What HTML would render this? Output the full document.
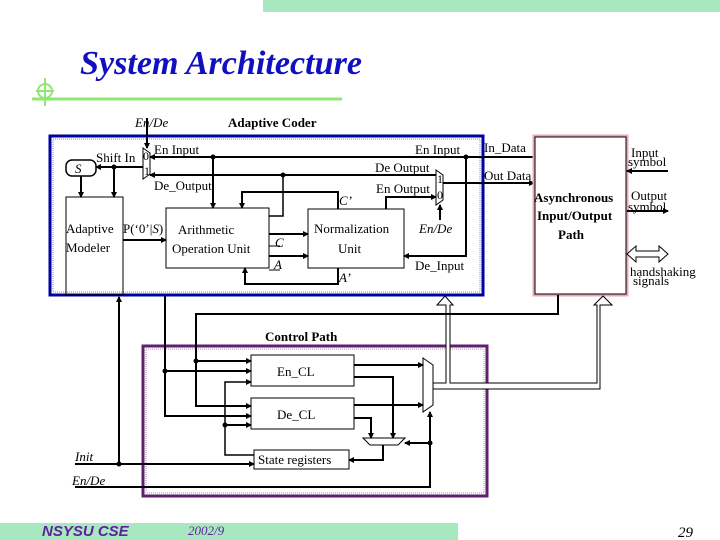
<!DOCTYPE html>
<html><head><meta charset="utf-8"><style>
body{margin:0;background:#fff}
svg{display:block}
text{font-family:"Liberation Serif",serif;font-size:13px;fill:#000}
.i{font-style:italic}
.b{font-weight:bold}
</style></head><body>
<svg width="720" height="540" viewBox="0 0 720 540" xmlns="http://www.w3.org/2000/svg">
<defs>
<marker id="a" markerWidth="6" markerHeight="6" refX="5" refY="3" orient="auto" markerUnits="userSpaceOnUse"><path d="M0,0L6,3L0,6z" fill="#000"/></marker>
</defs>
<rect x="263" y="0" width="457" height="12" fill="#a8e8c0"/>
<rect x="0" y="523" width="458" height="17" fill="#a8e8c0"/>
<text x="80" y="74" class="i b" textLength="282" lengthAdjust="spacingAndGlyphs" style="font-size:34px;fill:#1010c0">System Architecture</text>
<line x1="32" y1="99" x2="342" y2="99" stroke="#90e870" stroke-width="3"/>
<circle cx="45" cy="91" r="7" fill="none" stroke="#90e870" stroke-width="2"/>
<line x1="45" y1="78" x2="45" y2="106" stroke="#90e870" stroke-width="2"/>
<line x1="36" y1="91" x2="54" y2="91" stroke="#90e870" stroke-width="2"/>

<rect x="50" y="136" width="433" height="159" fill="none" stroke="#0000a0" stroke-width="3"/>
<rect x="53" y="139" width="427" height="153" fill="none" stroke="#8888cc" stroke-width="1" stroke-dasharray="1,1"/>
<text x="228" y="127" class="b">Adaptive Coder</text>
<text x="135" y="127" class="i">En/De</text>

<g stroke="#000" stroke-width="2" fill="none">
<rect x="66" y="160" width="30" height="16" rx="6" stroke-width="1.5"/>
<rect x="66" y="197" width="57" height="98" stroke-width="1"/>
<rect x="166" y="208" width="103" height="60" stroke-width="1"/>
<rect x="308" y="209" width="96" height="59" stroke-width="1"/>
<path d="M143,148 L150,153 L150,174 L143,179 Z" stroke-width="1"/>
<path d="M436,170 L443,175 L443,200 L436,205 Z" stroke-width="1"/>
<line x1="147" y1="118" x2="147" y2="148" marker-end="url(#a)"/>
<line x1="484" y1="157" x2="150" y2="157" marker-end="url(#a)"/>
<line x1="436" y1="175" x2="150" y2="175" marker-end="url(#a)"/>
<line x1="143" y1="167" x2="96" y2="167" marker-end="url(#a)"/>
<line x1="114" y1="167" x2="114" y2="197" marker-end="url(#a)"/>
<line x1="81" y1="176" x2="81" y2="197" marker-end="url(#a)"/>
<line x1="123" y1="240" x2="166" y2="240" marker-end="url(#a)"/>
<line x1="213" y1="157" x2="213" y2="208" marker-end="url(#a)"/>
<polyline points="283,175 283,216 269,216" stroke-width="1.5"/>
<polyline points="338,209 338,192 242,192 242,208" marker-end="url(#a)"/>
<polyline points="338,268 338,284 245,284 245,268" marker-end="url(#a)"/>
<line x1="269" y1="234" x2="308" y2="234" marker-end="url(#a)"/>
<line x1="269" y1="256" x2="308" y2="256" marker-end="url(#a)"/>
<polyline points="386,209 386,197 436,197" marker-end="url(#a)"/>
<polyline points="466,157 466,256 404,256" marker-end="url(#a)"/>
<line x1="440" y1="220" x2="440" y2="205" marker-end="url(#a)"/>
<line x1="443" y1="183" x2="534" y2="183" marker-end="url(#a)"/>
<line x1="484" y1="157" x2="534" y2="157"/>
</g>
<g stroke="#000" stroke-width="1">
<line x1="269" y1="246" x2="280" y2="246"/><line x1="269" y1="270" x2="280" y2="270"/>
</g>
<g fill="#000"><circle cx="114" cy="167" r="2.5"/><circle cx="213" cy="157" r="2.5"/><circle cx="283" cy="175" r="2.5"/><circle cx="466" cy="157" r="2.5"/></g>
<text x="75" y="173" class="i">S</text>
<text x="96" y="162">Shift  In</text>
<text x="143" y="160" style="font-size:12px">0</text><text x="144" y="175" style="font-size:12px">1</text>
<text x="154" y="154">En  Input</text>
<text x="154" y="190">De_Output</text>
<text x="66" y="233">Adaptive</text><text x="66" y="252">Modeler</text>
<text x="123" y="233">P(‘0’|<tspan class="i">S</tspan>)</text>
<text x="178" y="234">Arithmetic</text><text x="172" y="253">Operation Unit</text>
<text x="275" y="247" class="i">C</text><text x="274" y="269" class="i">A</text>
<text x="339" y="205" class="i">C’</text><text x="339" y="282" class="i">A’</text>
<text x="314" y="233">Normalization</text><text x="338" y="253">Unit</text>
<text x="415" y="154">En  Input</text>
<text x="375" y="172">De  Output</text>
<text x="376" y="193">En  Output</text>
<text x="437" y="183" style="font-size:12px">1</text><text x="437" y="199" style="font-size:12px">0</text>
<text x="419" y="233" class="i">En/De</text>
<text x="415" y="270">De_Input</text>
<text x="484" y="152">In_Data</text><text x="484" y="180">Out  Data</text>

<rect x="534" y="136" width="93" height="159" fill="none" stroke="#e8a8b0" stroke-width="3"/>
<rect x="535" y="137" width="91" height="157" fill="none" stroke="#000" stroke-width="1"/>
<text x="534" y="202" class="b">Asynchronous</text>
<text x="537" y="220" class="b">Input/Output</text>
<text x="558" y="239" class="b">Path</text>
<g stroke="#000" stroke-width="2">
<line x1="668" y1="171" x2="627" y2="171" marker-end="url(#a)"/>
<line x1="627" y1="211" x2="668" y2="211" marker-end="url(#a)"/>
</g>
<text x="631" y="157">Input</text><text x="628" y="166">symbol</text>
<text x="631" y="200">Output</text><text x="628" y="211">symbol</text>
<path d="M627,254 L636,246 L636,251 L659,251 L659,246 L668,254 L659,262 L659,257 L636,257 L636,262 Z" fill="#fff" stroke="#000" stroke-width="1"/>
<text x="630" y="276">handshaking</text><text x="633" y="285">signals</text>

<rect x="143" y="346" width="344" height="150" fill="none" stroke="#602070" stroke-width="3"/>
<rect x="146" y="349" width="338" height="144" fill="none" stroke="#b090b8" stroke-width="1" stroke-dasharray="1,1"/>
<text x="265" y="341" class="b">Control Path</text>
<g stroke="#000" fill="#fff" stroke-width="1">
<rect x="251" y="355" width="103" height="31"/>
<rect x="251" y="398" width="103" height="31"/>
<rect x="254" y="450" width="95" height="19"/>
<path d="M363,438 L405,438 L398,445 L370,445 Z"/>
<path d="M423,358 L433,365 L433,405 L423,412 Z"/>
<path d="M445,296 L453,305 L450,305 L450,383 L597,383 L597,305 L594,305 L603,296 L612,305 L600,305 L600,389 L433,389 L433,383 L446,383 L446,305 L437,305 Z"/>
</g>
<text x="277" y="376">En_CL</text>
<text x="277" y="419">De_CL</text>
<text x="258" y="464">State registers</text>
<g stroke="#000" stroke-width="2" fill="none">
<polyline points="558,295 558,314 196,314 196,406 251,406" marker-end="url(#a)"/>
<line x1="196" y1="361" x2="251" y2="361" marker-end="url(#a)"/>
<polyline points="165,296 165,416 251,416" marker-end="url(#a)"/>
<line x1="165" y1="371" x2="251" y2="371" marker-end="url(#a)"/>
<line x1="119" y1="464" x2="119" y2="297" marker-end="url(#a)"/>
<line x1="75" y1="464" x2="254" y2="464" marker-end="url(#a)"/>
<polyline points="254,455 225,455 225,382 251,382" stroke-width="1.5" marker-end="url(#a)"/>
<line x1="225" y1="425" x2="251" y2="425" marker-end="url(#a)"/>
<line x1="354" y1="365" x2="423" y2="365" marker-end="url(#a)"/>
<polyline points="354,377 393,377 393,438" marker-end="url(#a)"/>
<line x1="354" y1="405" x2="423" y2="405" marker-end="url(#a)"/>
<polyline points="354,418 371,418 371,438" marker-end="url(#a)"/>
<polyline points="383,445 383,460 349,460" marker-end="url(#a)"/>
<polyline points="75,487 430,487 430,412" marker-end="url(#a)"/>
<line x1="430" y1="443" x2="405" y2="443" marker-end="url(#a)"/>
</g>
<g fill="#000"><circle cx="196" cy="361" r="2.5"/><circle cx="165" cy="371" r="2.5"/><circle cx="225" cy="425" r="2.5"/><circle cx="119" cy="464" r="2.5"/><circle cx="430" cy="443" r="2.5"/></g>
<text x="75" y="461" class="i">Init</text>
<text x="72" y="485" class="i">En/De</text>

<text x="42" y="536" class="b i" style="font-family:'Liberation Sans',sans-serif;font-size:15px;fill:#6020a0">NSYSU CSE</text>
<text x="188" y="535" class="i" style="fill:#6020a0">2002/9</text>
<text x="678" y="537" class="i" style="font-size:15px">29</text>
</svg>
</body></html>
